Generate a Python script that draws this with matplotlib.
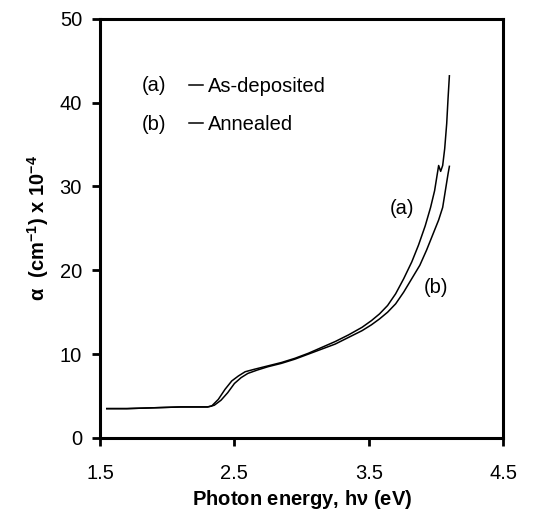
import numpy as np
import matplotlib
matplotlib.use('Agg')
import matplotlib.pyplot as plt

plt.rcParams['font.family'] = ['Liberation Sans', 'DejaVu Sans']
plt.rcParams['mathtext.default'] = 'regular'

# curve (a) as-deposited
energy_a = [1.55, 1.7, 1.9, 2.1, 2.3, 2.33, 2.38, 2.43, 2.48, 2.53, 2.58, 2.65,
            2.75, 2.85, 2.95, 3.05, 3.15, 3.25, 3.35, 3.45, 3.52, 3.58, 3.64,
            3.70, 3.76, 3.82, 3.87, 3.92, 3.96, 3.99, 4.01, 4.02, 4.035, 4.05,
            4.065, 4.08, 4.09, 4.1]
alpha_a = [3.5, 3.5, 3.6, 3.7, 3.7, 3.8, 4.6, 5.8, 6.8, 7.4, 7.9, 8.2,
           8.6, 9.0, 9.5, 10.1, 10.8, 11.5, 12.3, 13.2, 14.0, 14.8, 15.8,
           17.2, 19.0, 21.0, 23.0, 25.3, 27.5, 29.5, 31.5, 32.5, 31.8, 32.5,
           34.5, 37.5, 40.5, 43.2]

# curve (b) annealed
energy_b = [1.55, 1.7, 1.9, 2.1, 2.3, 2.35, 2.40, 2.45, 2.50, 2.55, 2.60, 2.67,
            2.75, 2.85, 2.95, 3.05, 3.15, 3.25, 3.35, 3.45, 3.52, 3.58, 3.64,
            3.70, 3.76, 3.82, 3.88, 3.93, 3.98, 4.02, 4.05, 4.07, 4.09, 4.1]
alpha_b = [3.5, 3.5, 3.6, 3.7, 3.7, 3.9, 4.5, 5.4, 6.5, 7.2, 7.7, 8.1,
           8.5, 8.9, 9.4, 10.0, 10.6, 11.2, 12.0, 12.8, 13.5, 14.2, 15.0,
           16.0, 17.4, 19.0, 20.6, 22.4, 24.4, 26.0, 27.5, 29.5, 31.5, 32.4]

x_ticks = [1.5, 2.5, 3.5, 4.5]
y_ticks = [0, 10, 20, 30, 40, 50]

fs = 14.5

fig = plt.figure(figsize=(5.41, 5.22), dpi=100)
ax = fig.add_axes([0.185, 0.161, 0.745, 0.803])

la, = ax.plot(energy_a, alpha_a, color='black', lw=1.1)
lb, = ax.plot(energy_b, alpha_b, color='black', lw=1.1)

ax.set_xlim(1.5, 4.5)
ax.set_ylim(0, 50)
ax.set_xticks(x_ticks)
ax.set_xticklabels([f'{v:.1f}' for v in x_ticks])
ax.set_yticks(y_ticks)

for s in ax.spines.values():
    s.set_linewidth(2.2)
ax.tick_params(direction='out', length=6, width=2.0, labelsize=fs, pad=7)
ax.tick_params(axis='x', pad=13)

ax.set_xlabel(r'Photon energy, h$\nu$ (eV)', fontsize=fs, fontweight='bold', labelpad=3)
ax.set_ylabel(r'α  (cm$^{-1}$) x 10$^{-4}$', fontsize=fs, fontweight='bold', labelpad=6)

ax.text(3.745, 27.4, '(a)', fontsize=fs, ha='center', va='center')
ax.text(4.0, 17.9, '(b)', fontsize=fs, ha='center', va='center')

ax.text(1.9, 42.1, '(a)', fontsize=fs, ha='center', va='center')
ax.text(1.9, 37.4, '(b)', fontsize=fs, ha='center', va='center')
ax.legend([la, lb], ['As-deposited', 'Annealed'], loc='upper left',
          bbox_to_anchor=(0.175, 0.905), frameon=False, fontsize=fs,
          handlelength=0.7, handletextpad=0.25, labelspacing=0.95)

fig.savefig('out.png', dpi=100)
